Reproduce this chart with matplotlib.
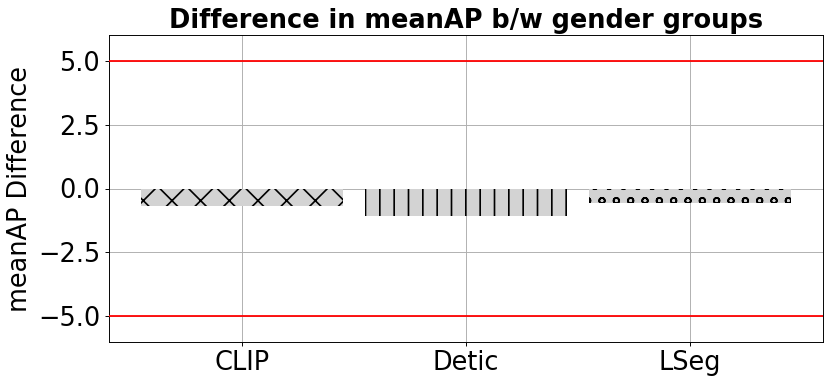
import matplotlib
matplotlib.use('Agg')
import matplotlib.pyplot as plt

models = ['CLIP', 'Detic', 'LSeg']
diffs = [-0.68, -1.08, -0.58]
hatches = ['x', '|', 'o']
limits = [5.0, -5.0]

plt.rcParams['hatch.linewidth'] = 1.4

dpi = 86
fig = plt.figure(figsize=(831 / dpi, 384 / dpi), dpi=dpi)
ax = fig.add_axes([108.5 / 831, 1 - 342 / 384, (823 - 108.5) / 831, (342 - 35) / 384])

ax.grid(True, zorder=0, color='#b0b0b0', linewidth=0.8)
ax.set_axisbelow(True)
bars = ax.bar(models, diffs, width=0.9, color='lightgray', zorder=2)
for bar, h in zip(bars, hatches):
    bar.set_hatch(h)

for lim in limits:
    ax.axhline(lim, color='red', linewidth=1.5, zorder=3)

ax.set_ylim(-6, 6)
ax.set_yticks([-5.0, -2.5, 0.0, 2.5, 5.0])
ax.tick_params(labelsize=21.5)
ax.set_ylabel('meanAP Difference', fontsize=21.5)
ax.set_title('Difference in meanAP b/w gender groups', fontsize=21.5, fontweight='bold')

fig.savefig('out.png', dpi=dpi)
